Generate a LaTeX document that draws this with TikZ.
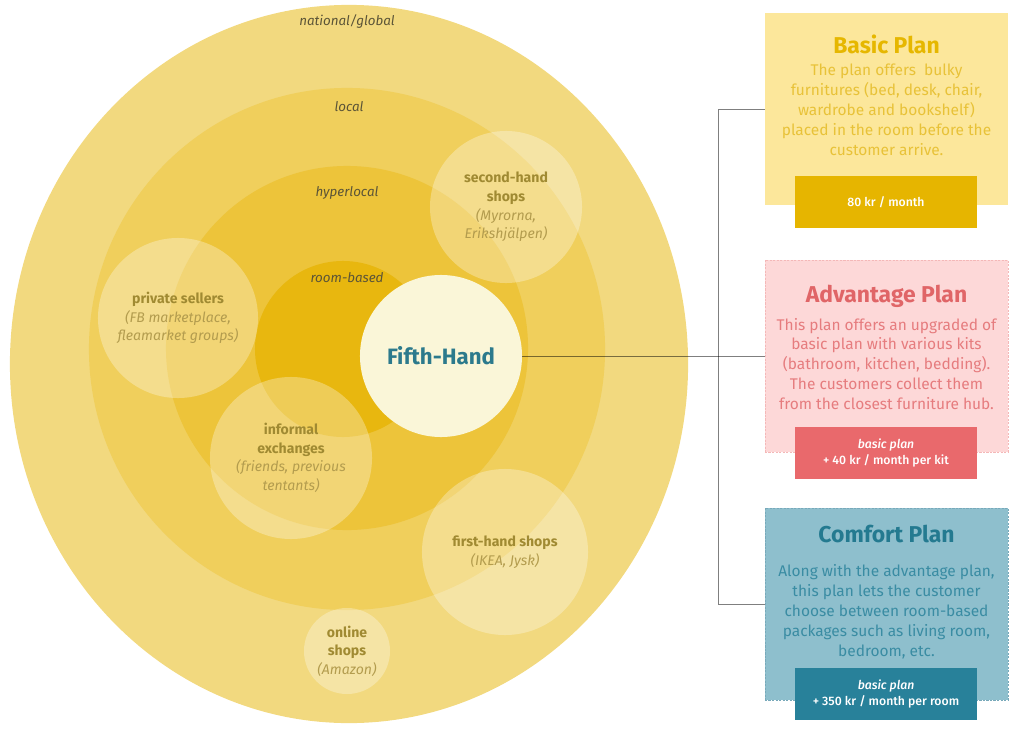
\documentclass[tikz,border=0pt]{standalone}
\usepackage{fontspec}
\setmainfont{Fira Sans}
\newfontfamily\pricefont{Fira Sans Medium}
\usetikzlibrary{positioning, shapes.geometric}

\definecolor{ringNational}{HTML}{F2D97F}
\definecolor{ringLocal}{HTML}{F0CF5C}
\definecolor{ringHyper}{HTML}{EDC43A}
\definecolor{ringRoom}{HTML}{E8B70F}
\definecolor{coreFill}{HTML}{FAF6D8}
\definecolor{coreText}{HTML}{2C7A8C}
\definecolor{ringText}{HTML}{5B5437}
\definecolor{bubbleText}{HTML}{A08A32}
\definecolor{bubbleItalic}{HTML}{B39C4E}
\definecolor{basicFill}{HTML}{FCE79B}
\definecolor{basicTitle}{HTML}{E6B700}
\definecolor{basicText}{HTML}{E8C238}
\definecolor{basicPrice}{HTML}{E6B500}
\definecolor{advFill}{HTML}{FDD8D8}
\definecolor{advBorder}{HTML}{F4B8B8}
\definecolor{advTitle}{HTML}{E06567}
\definecolor{advText}{HTML}{E67C7E}
\definecolor{advPrice}{HTML}{E9696C}
\definecolor{comfFill}{HTML}{8EBFCD}
\definecolor{comfBorder}{HTML}{78A9BA}
\definecolor{comfTitle}{HTML}{247A90}
\definecolor{comfText}{HTML}{3A8CA3}
\definecolor{comfPrice}{HTML}{28819A}

\newcommand{\bubsub}[1]{{\mdseries\itshape\color{bubbleItalic}#1}}

\begin{document}
\begin{tikzpicture}[
        x=0.025cm, y=-0.025cm,
        ring/.style={ellipse, inner sep=0pt},
        ringlabel/.style={font=\fontsize{9.5}{11}\selectfont\itshape, text=ringText},
        bubble/.style={circle, fill=white, fill opacity=0.3, text opacity=1, inner sep=0pt, align=center, font=\fontsize{10}{13.2}\selectfont\bfseries, text=bubbleText},
        plan/.style={rectangle, minimum width=6.075cm, minimum height=4.8cm, inner sep=0pt},
        planframe/.style={draw, dash pattern=on 1.5pt off 1pt, line width=0.5pt},
        plantitle/.style={font=\fontsize{16.3}{18}\selectfont\bfseries},
        plantext/.style={align=center, font=\fontsize{11}{14.2}\selectfont},
        price/.style={rectangle, minimum width=4.55cm, minimum height=1.3cm, align=center, text=white, font=\pricefont\fontsize{8.7}{12}\selectfont},
        line/.style={draw=black, draw opacity=0.5, line width=0.6pt}
        ]
        \useasboundingbox (0,0) rectangle (1024,729);

        \node[ring, fill=ringNational, minimum width=16.95cm, minimum height=17.95cm] (national) at (349,364) {};
        \node[ring, fill=ringLocal, minimum width=12.9cm, minimum height=13.05cm] (local) at (347,349) {};
        \node[ring, fill=ringHyper, minimum width=9.05cm, minimum height=9.1cm] (hyperlocal) at (347,348) {};
        \node[ring, fill=ringRoom, minimum width=4.4cm, minimum height=4.4cm] (roombased) at (343,349) {};

        \node[ringlabel] (nationalLabel) at (347,22) {national/global};
        \node[ringlabel] (localLabel) at (349,107) {local};
        \node[ringlabel] (hyperlocalLabel) at (347,193) {hyperlocal};
        \node[ringlabel] (roombasedLabel) at (347,278) {room-based};

        \node[bubble, minimum size=3.8cm] (secondhand) at (506,207) {second-hand\\shops\\\bubsub{(Myrorna,}\\\bubsub{Erikshjälpen)}};
        \node[bubble, minimum size=4cm] (private) at (178,318) {private sellers\\\bubsub{(FB marketplace,}\\\bubsub{fleamarket groups)}};
        \node[bubble, minimum size=4.05cm] (informal) at (291,458) {informal\\exchanges\\\bubsub{(friends, previous}\\\bubsub{tentants)}};
        \node[bubble, minimum size=4.15cm] (firsthand) at (505,552) {first-hand shops\\\bubsub{(IKEA, Jysk)}};
        \node[bubble, minimum size=2.15cm] (online) at (347,651) {online\\shops\\\bubsub{(Amazon)}};

        \node[circle, fill=coreFill, minimum size=4.05cm, inner sep=0pt, text=coreText, font=\fontsize{15.8}{18}\selectfont\bfseries] (core) at (441,356) {Fifth-Hand};

        \node[plan, fill=basicFill] (basic) at (886.5,109) {};
        \node[plantitle, text=basicTitle] (basicTitle) at (886.5,44) {Basic Plan};
        \node[plantext, text=basicText] (basicText) at (886.5,110) {The plan offers\ \ bulky\\furnitures (bed, desk, chair,\\wardrobe and bookshelf)\\placed in the room before the\\customer arrive.};
        \node[price, fill=basicPrice] (basicPrice) at (886,202) {80 kr / month};

        \node[plan, planframe, fill=advFill, draw=advBorder] (advantage) at (886.5,356) {};
        \node[plantitle, text=advTitle] (advantageTitle) at (886.5,296) {Advantage Plan};
        \node[plantext, text=advText] (advantageText) at (886.5,364) {This plan offers an upgraded of\\basic plan with various kits\\(bathroom, kitchen, bedding).\\The customers collect them\\from the closest furniture hub.};
        \node[price, fill=advPrice] (advantagePrice) at (886,453) {\textit{basic plan}\\+ 40 kr / month per kit};

        \node[plan, planframe, fill=comfFill, draw=comfBorder] (comfort) at (886.5,604) {};
        \node[plantitle, text=comfTitle] (comfortTitle) at (886.5,534) {Comfort Plan};
        \node[plantext, text=comfText] (comfortText) at (886.5,612) {Along with the advantage plan,\\this plan lets the customer\\choose between room-based\\packages such as living room,\\bedroom, etc.};
        \node[price, fill=comfPrice] (comfortPrice) at (886,694) {\textit{basic plan}\\+ 350 kr / month per room};

        \coordinate (fork) at (718,356);
        \path[line] (core.east) -- (advantage.west);
        \path[line] (basic.west) -| (fork);
        \path[line] (comfort.west) -| (fork);
      \end{tikzpicture}
\end{document}
